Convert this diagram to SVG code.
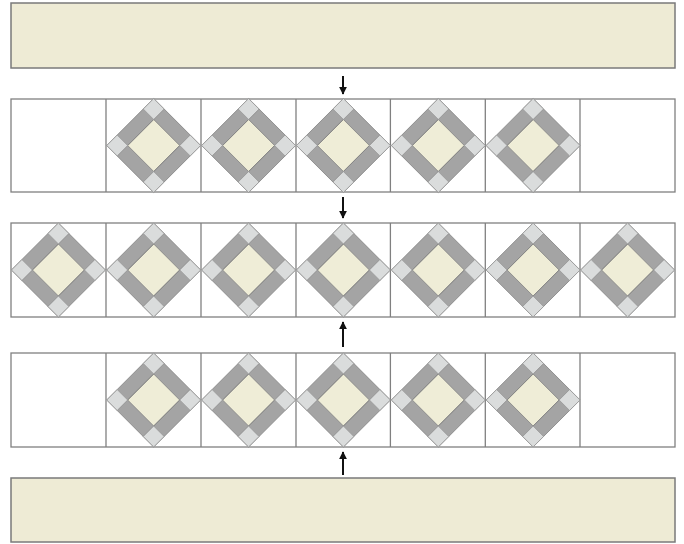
<svg xmlns="http://www.w3.org/2000/svg" xmlns:xlink="http://www.w3.org/1999/xlink" width="684" height="544" viewBox="0 0 684 544">
<style>
.band{fill:#eeebd5;stroke:#7a7a7a;stroke-width:1.5}
.cell{fill:#ffffff;stroke:#808080;stroke-width:1.3}
.dk{fill:#a4a4a4;stroke:#858585;stroke-width:0.8}
.cr{fill:#efedd7;stroke:#858585;stroke-width:0.8}
.lt{fill:#dadcdc;stroke:#9a9a9a;stroke-width:0.8}
.arr{stroke:#111;stroke-width:2;fill:none}
</style>
<defs>
<marker id="ah" viewBox="0 0 10 10" refX="9" refY="5" markerWidth="4" markerHeight="4" orient="auto" markerUnits="strokeWidth">
<path d="M0,0 L10,5 L0,10 z" fill="#111"/>
</marker>
<g id="blk">
<rect class="dk" x="-33.2" y="-33.2" width="66.4" height="66.4"/>
<rect class="cr" x="-18.4" y="-18.4" width="36.8" height="36.8"/>
<line class="dk" x1="-18.4" y1="-33.2" x2="-18.4" y2="33.2"/>
<line class="dk" x1="18.4" y1="-33.2" x2="18.4" y2="33.2"/>
<rect class="lt" x="-33.2" y="-33.2" width="14.8" height="14.8"/>
<rect class="lt" x="18.4" y="-33.2" width="14.8" height="14.8"/>
<rect class="lt" x="-33.2" y="18.4" width="14.8" height="14.8"/>
<rect class="lt" x="18.4" y="18.4" width="14.8" height="14.8"/>
</g>
</defs>
<g id="top-band"><rect class="band" x="11" y="3" width="664" height="65"/></g>
<g id="row1">
<rect class="cell" x="11" y="99" width="664" height="93"/>
<line class="cell" x1="106" y1="99" x2="106" y2="192"/>
<line class="cell" x1="201" y1="99" x2="201" y2="192"/>
<line class="cell" x1="296" y1="99" x2="296" y2="192"/>
<line class="cell" x1="390.4" y1="99" x2="390.4" y2="192"/>
<line class="cell" x1="485.3" y1="99" x2="485.3" y2="192"/>
<line class="cell" x1="580" y1="99" x2="580" y2="192"/>
<use xlink:href="#blk" transform="translate(153.7,145.5) rotate(45)"/>
<use xlink:href="#blk" transform="translate(248.6,145.5) rotate(45)"/>
<use xlink:href="#blk" transform="translate(343.4,145.5) rotate(45)"/>
<use xlink:href="#blk" transform="translate(438.3,145.5) rotate(45)"/>
<use xlink:href="#blk" transform="translate(533.1,145.5) rotate(45)"/>
</g>
<g id="row2">
<rect class="cell" x="11" y="223" width="664" height="94"/>
<line class="cell" x1="106" y1="223" x2="106" y2="317"/>
<line class="cell" x1="201" y1="223" x2="201" y2="317"/>
<line class="cell" x1="296" y1="223" x2="296" y2="317"/>
<line class="cell" x1="390.4" y1="223" x2="390.4" y2="317"/>
<line class="cell" x1="485.3" y1="223" x2="485.3" y2="317"/>
<line class="cell" x1="580" y1="223" x2="580" y2="317"/>
<use xlink:href="#blk" transform="translate(58.4,270) rotate(45)"/>
<use xlink:href="#blk" transform="translate(153.7,270) rotate(45)"/>
<use xlink:href="#blk" transform="translate(248.6,270) rotate(45)"/>
<use xlink:href="#blk" transform="translate(343.4,270) rotate(45)"/>
<use xlink:href="#blk" transform="translate(438.3,270) rotate(45)"/>
<use xlink:href="#blk" transform="translate(533.1,270) rotate(45)"/>
<use xlink:href="#blk" transform="translate(627.6,270) rotate(45)"/>
</g>
<g id="row3">
<rect class="cell" x="11" y="353" width="664" height="94"/>
<line class="cell" x1="106" y1="353" x2="106" y2="447"/>
<line class="cell" x1="201" y1="353" x2="201" y2="447"/>
<line class="cell" x1="296" y1="353" x2="296" y2="447"/>
<line class="cell" x1="390.4" y1="353" x2="390.4" y2="447"/>
<line class="cell" x1="485.3" y1="353" x2="485.3" y2="447"/>
<line class="cell" x1="580" y1="353" x2="580" y2="447"/>
<use xlink:href="#blk" transform="translate(153.7,400) rotate(45)"/>
<use xlink:href="#blk" transform="translate(248.6,400) rotate(45)"/>
<use xlink:href="#blk" transform="translate(343.4,400) rotate(45)"/>
<use xlink:href="#blk" transform="translate(438.3,400) rotate(45)"/>
<use xlink:href="#blk" transform="translate(533.1,400) rotate(45)"/>
</g>
<g id="bottom-band"><rect class="band" x="11" y="478" width="664" height="64"/></g>
<g id="connectors">
<line class="arr" x1="343" y1="76" x2="343" y2="94" marker-end="url(#ah)"/>
<line class="arr" x1="343" y1="197" x2="343" y2="218" marker-end="url(#ah)"/>
<line class="arr" x1="343" y1="347" x2="343" y2="322" marker-end="url(#ah)"/>
<line class="arr" x1="343" y1="475" x2="343" y2="452" marker-end="url(#ah)"/>
</g>
</svg>
